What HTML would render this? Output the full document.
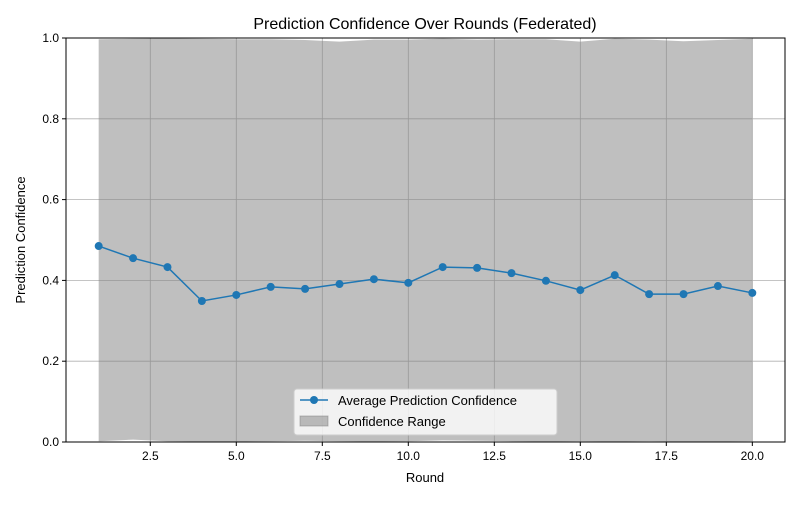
<!DOCTYPE html>
<html><head><meta charset="utf-8"><style>
body{margin:0;background:#fff;}
svg text{font-family:"Liberation Sans","DejaVu Sans",sans-serif;fill:#000;}
</style></head><body>
<svg id="chart" width="800" height="500" xmlns="http://www.w3.org/2000/svg">
<rect width="800" height="500" fill="#fff"/>
<text x="425" y="29" font-size="16" text-anchor="middle">Prediction Confidence Over Rounds (Federated)</text>
<g id="grid"></g>
<g id="fill"></g>
<g id="series"></g>
<g id="axes"></g>
<text x="425" y="482" font-size="13" text-anchor="middle">Round</text>
<text x="25" y="240" font-size="13" text-anchor="middle" transform="rotate(-90 25 240)">Prediction Confidence</text>
<g>
<rect x="294" y="389" width="263" height="46" rx="3" fill="#fff" fill-opacity="0.8" stroke="#ccc"/>
<line x1="300" y1="400" x2="328" y2="400" stroke="#1f77b4" stroke-width="1.5"/>
<circle cx="314" cy="400" r="4" fill="#1f77b4"/>
<text x="338" y="405" font-size="13">Average Prediction Confidence</text>
<rect x="300" y="416" width="28" height="10" fill="#808080" fill-opacity="0.5" stroke="#808080" stroke-opacity="0.5"/>
<text x="338" y="426" font-size="13">Confidence Range</text>
</g>
</svg>
<script>
const rounds=[1,2,3,4,5,6,7,8,9,10,11,12,13,14,15,16,17,18,19,20];
const avgConf=[0.485,0.455,0.433,0.349,0.364,0.384,0.379,0.391,0.403,0.394,0.433,0.431,0.418,0.399,0.376,0.413,0.366,0.366,0.386,0.369];
const maxConf=[0.997,0.998,0.999,0.998,0.997,0.997,0.995,0.991,0.996,0.996,0.998,0.996,0.997,0.997,0.991,0.998,0.996,0.992,0.995,0.998];
const minConf=[0.002,0.006,0.002,0.001,0.001,0.002,0.003,0.002,0.001,0.002,0.004,0.003,0.002,0.001,0.002,0.001,0.002,0.001,0.001,0.002];
const xTicks=[2.5,5,7.5,10,12.5,15,17.5,20];
const xTickLabels=["2.5","5.0","7.5","10.0","12.5","15.0","17.5","20.0"];
const yTicks=[0,0.2,0.4,0.6,0.8,1.0];
const yTickLabels=["0.0","0.2","0.4","0.6","0.8","1.0"];
const L=66,R=785,T=38,B=442;
const xMin=0.05,xMax=20.95;
const x=v=>L+(v-xMin)/(xMax-xMin)*(R-L);
const y=v=>B-v*(B-T);
const NS="http://www.w3.org/2000/svg";
function mk(tag,attrs,parent){const e=document.createElementNS(NS,tag);for(const k in attrs)e.setAttribute(k,attrs[k]);document.getElementById(parent).appendChild(e);return e;}
xTicks.forEach((t,i)=>{
 const g=mk('line',{x1:x(t),x2:x(t),y1:T,y2:B,stroke:'#b0b0b0','stroke-width':0.8},'grid');
 
 
 mk('line',{x1:x(t),x2:x(t),y1:B,y2:B+4,stroke:'#000'},'axes');
 const tx=mk('text',{x:x(t),y:B+18,'font-size':12,'text-anchor':'middle'},'axes');
 tx.textContent=xTickLabels[i];
 
 
});
yTicks.forEach((t,i)=>{
 const g=mk('line',{x1:L,x2:R,y1:y(t),y2:y(t),stroke:'#b0b0b0','stroke-width':0.8},'grid');
 
 
 mk('line',{x1:L-4,x2:L,y1:y(t),y2:y(t),stroke:'#000'},'axes');
 const tx=mk('text',{x:L-7,y:y(t)+4,'font-size':12,'text-anchor':'end'},'axes');
 tx.textContent=yTickLabels[i];
 
 
});
let d=rounds.map((r,i)=>(i?'L':'M')+x(r)+','+y(maxConf[i])).join(' ');
for(let i=rounds.length-1;i>=0;i--)d+=' L'+x(rounds[i])+','+y(minConf[i]);
const area=mk('path',{d:d+' Z',fill:'#808080','fill-opacity':0.5},'fill');


const ln=mk('polyline',{points:rounds.map((r,i)=>x(r)+','+y(avgConf[i])).join(' '),fill:'none',stroke:'#1f77b4','stroke-width':1.5},'series');


rounds.forEach((r,i)=>{
 const c=mk('circle',{cx:x(r),cy:y(avgConf[i]),r:4,fill:'#1f77b4'},'series');
 
 
});
const fr=mk('rect',{x:L,y:T,width:R-L,height:B-T,fill:'none',stroke:'#000','stroke-width':1},'axes');


</script>
</body></html>
